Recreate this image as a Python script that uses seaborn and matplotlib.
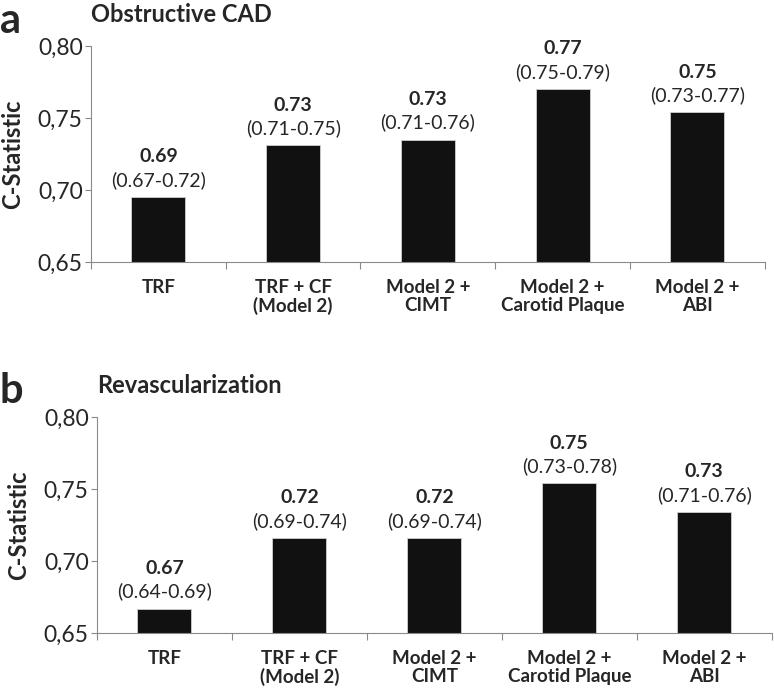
import numpy as np
import pandas as pd
import matplotlib
matplotlib.use("Agg")
import matplotlib.pyplot as plt
import seaborn as sns
from matplotlib.ticker import FuncFormatter, FixedLocator

# Data
categories = ['TRF', 'TRF + CF\n(Model 2)', 'Model 2 +\nCIMT',
              'Model 2 +\nCarotid Plaque', 'Model 2 +\nABI']
cad_values = [0.695, 0.731, 0.735, 0.770, 0.754]
cad_labels = ['0.69', '0.73', '0.73', '0.77', '0.75']
cad_ci = ['(0.67-0.72)', '(0.71-0.75)', '(0.71-0.76)', '(0.75-0.79)', '(0.73-0.77)']
rev_values = [0.667, 0.716, 0.716, 0.754, 0.734]
rev_labels = ['0.67', '0.72', '0.72', '0.75', '0.73']
rev_ci = ['(0.64-0.69)', '(0.69-0.74)', '(0.69-0.74)', '(0.73-0.78)', '(0.71-0.76)']
y_ticks = [0.65, 0.70, 0.75, 0.80]

sns.set_style("white")
plt.rcParams['font.family'] = ['Lato', 'DejaVu Sans']

fig = plt.figure(figsize=(7.74, 6.99), dpi=100)
ax_a = fig.add_axes([0.1176, 0.6252, 0.8704, 0.309])
ax_b = fig.add_axes([0.1253, 0.0944, 0.8717, 0.309])

axis_color = '#8a8a8a'


def draw_panel(ax, values, labels, ci, title):
    df = pd.DataFrame({'cat': categories, 'val': values})
    sns.barplot(data=df, x='cat', y='val', color='#111111', width=0.4,
                edgecolor='#cfcfcf', linewidth=0.6, saturation=1, ax=ax)
    ax.set_ylim(0.65, 0.80)
    ax.set_xlim(-0.5, len(categories) - 0.5)
    ax.yaxis.set_major_locator(FixedLocator(y_ticks))
    ax.yaxis.set_major_formatter(FuncFormatter(lambda v, p: f"{v:.2f}".replace('.', ',')))
    ax.tick_params(axis='y', labelsize=16.5, length=4, width=0.8,
                   color=axis_color, direction='out', left=True, pad=2)
    # category separators as minor ticks
    ax.set_xticks(np.arange(-0.5, len(categories), 1.0), minor=True)
    ax.tick_params(axis='x', which='minor', length=5, width=0.8,
                   color=axis_color, direction='out', bottom=True)
    ax.tick_params(axis='x', which='major', length=0, pad=12)
    for t in ax.get_xticklabels():
        t.set_fontweight('bold')
        t.set_fontsize(13.5)
        t.set_linespacing(1.1)
    ax.set_xlabel('')
    ax.set_ylabel('C-Statistic', fontsize=17, fontweight='bold', labelpad=10)
    for side in ['top', 'right']:
        ax.spines[side].set_visible(False)
    for side in ['left', 'bottom']:
        ax.spines[side].set_color(axis_color)
        ax.spines[side].set_linewidth(0.8)
    for i, v in enumerate(values):
        ax.annotate(ci[i], (i, v), xytext=(0, 8), textcoords='offset points',
                    ha='center', va='baseline', fontsize=14)
        ax.annotate(labels[i], (i, v), xytext=(0, 25), textcoords='offset points',
                    ha='center', va='baseline', fontsize=14, fontweight='bold')
    ax.annotate(title, (0, 1), xycoords='axes fraction', xytext=(0, 17),
                textcoords='offset points', fontsize=17, fontweight='bold',
                ha='left', va='baseline')


draw_panel(ax_a, cad_values, cad_labels, cad_ci, 'Obstructive CAD')
draw_panel(ax_b, rev_values, rev_labels, rev_ci, 'Revascularization')

# panel letters
fig.text(0.0, 1 - 33 / 699, 'a', fontsize=30, fontweight='bold', ha='left', va='baseline')
fig.text(0.0, 1 - 403 / 699, 'b', fontsize=30, fontweight='bold', ha='left', va='baseline')

fig.savefig('out.png', dpi=100)
